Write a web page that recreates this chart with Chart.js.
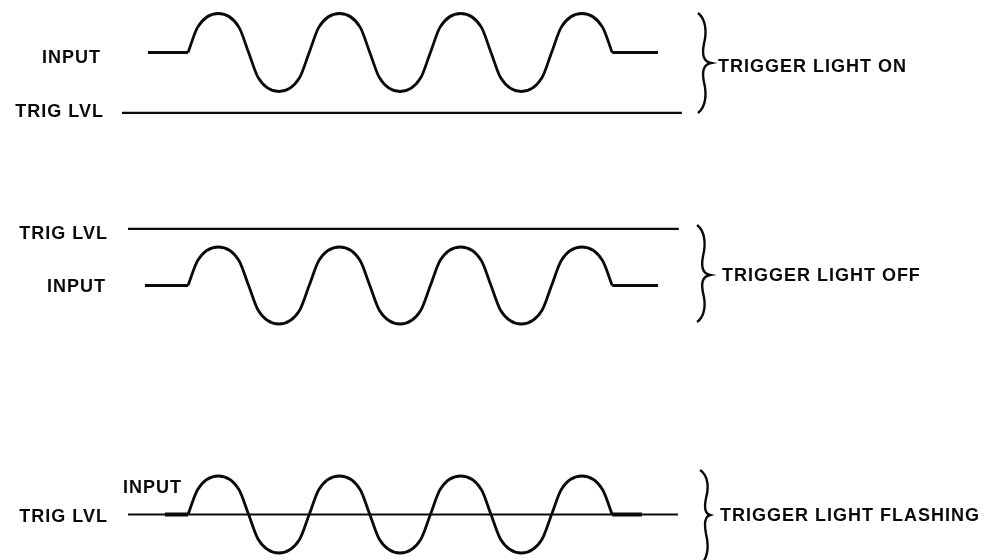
<!DOCTYPE html>
<html><head><meta charset="utf-8">
<script src="https://cdn.jsdelivr.net/npm/chart.js@4/dist/chart.umd.min.js"></script>
<style>html,body{margin:0;padding:0;background:#fff;overflow:hidden}canvas{display:block}</style>
</head><body>
<canvas id="c" width="991" height="560"></canvas>
<script>
// Input signal: time in quarter-periods, value in amplitude units
const waveT = [0,0.32,1,1.68,2,2.32,3,3.68,4,4.32,5,5.68,6,6.32,7,7.68,8,8.32,9,9.68,10,10.32,11,11.68,12,12.32,13,13.68,14];
const waveV = [0,0.65,1,0.65,0,-0.65,-1,-0.65,0,0.65,1,0.65,0,-0.65,-1,-0.65,0,0.65,1,0.65,0,-0.65,-1,-0.65,0,0.65,1,0.65,0];

// Three cases
const caseNames   = ['TRIGGER LIGHT ON', 'TRIGGER LIGHT OFF', 'TRIGGER LIGHT FLASHING'];
const trigLevels  = [-1.55, 1.47, 0];        // trigger level relative to input centre
const trigStartT  = [-2.18, -1.98, -1.98];
const trigEndT    = [16.30, 16.20, 16.17];
const inputStartT = [-1.32, -1.42, -0.76];   // quiet input before the burst
const inputEndT   = [15.51, 15.51, 14.98];   // quiet input after the burst
const inputLabel  = 'INPUT';
const trigLabel   = 'TRIG LVL';

// ---- layout (not data) ----
const axisIds = ['y1', 'y2', 'y3'];
const yRanges = [[-13.013, 1.346], [-7.130, 7.416], [-1.182, 13.364]];
const xRange = [-6.205, 26.502];
const labelPos = [
  { input: [-2.904, -0.269, 'right'], trig: [-2.805, -1.654, 'right'], name: [17.49, -0.50], brace: [16.83, 17.26, 1.013, -0.269, -1.551] },
  { input: [-2.739, -0.169, 'right'], trig: [-2.673,  1.208, 'right'], name: [17.62,  0.117], brace: [16.80, 17.23, 1.571, 0.273, -0.948] },
  { input: [-2.145,  0.558, 'left'],  trig: [-2.673, -0.195, 'right'], name: [17.56, -0.169], brace: [16.90, 17.23, 1.156, -0.013, -1.312] }
];
const INK = '#0a0a0a';

const datasets = [];
caseNames.forEach((name, i) => {
  const ax = axisIds[i];
  const thickQuiet = i === 2;
  datasets.push({
    label: name + ' trig', yAxisID: ax, borderColor: INK, borderWidth: thickQuiet ? 1.8 : 2.2,
    data: [{ x: trigStartT[i], y: trigLevels[i] }, { x: trigEndT[i], y: trigLevels[i] }]
  });
  datasets.push({
    label: name + ' input', yAxisID: ax, borderColor: INK, borderWidth: 2.8,
    cubicInterpolationMode: 'monotone',
    data: waveT.map((t, k) => ({ x: t, y: waveV[k] }))
  });
  datasets.push({
    label: name + ' lead', yAxisID: ax, borderColor: INK, borderWidth: thickQuiet ? 4 : 2.8,
    data: [{ x: inputStartT[i], y: 0 }, { x: waveT[0], y: waveV[0] }]
  });
  datasets.push({
    label: name + ' tail', yAxisID: ax, borderColor: INK, borderWidth: thickQuiet ? 4 : 2.8,
    data: [{ x: waveT[waveT.length - 1], y: waveV[waveV.length - 1] }, { x: inputEndT[i], y: 0 }]
  });
});

const scales = { x: { type: 'linear', min: xRange[0], max: xRange[1], display: false } };
axisIds.forEach((id, i) => {
  scales[id] = { type: 'linear', position: 'left', min: yRanges[i][0], max: yRanges[i][1], display: false };
});

function drawBrace(ctx, x0, xp, yT, yM, yB) {
  const a = yM - yT, b = yB - yM;
  ctx.beginPath();
  ctx.moveTo(x0, yT);
  ctx.bezierCurveTo(x0 + 8, yT + a * 0.12, x0 + 9, yT + a * 0.38, x0 + 6, yT + a * 0.62);
  ctx.bezierCurveTo(x0 + 4, yT + a * 0.82, x0 + 5, yM - 1.5, xp, yM);
  ctx.bezierCurveTo(x0 + 5, yM + 1.5, x0 + 4, yM + b * 0.18, x0 + 6, yM + b * 0.38);
  ctx.bezierCurveTo(x0 + 9, yM + b * 0.62, x0 + 8, yM + b * 0.88, x0, yB);
  ctx.lineWidth = 2.4;
  ctx.strokeStyle = INK;
  ctx.stroke();
}

const annotate = {
  id: 'annotate',
  afterDatasetsDraw(chart) {
    const ctx = chart.ctx, xs = chart.scales.x;
    ctx.save();
    ctx.fillStyle = INK;
    ctx.font = 'bold 18px "Liberation Sans", Arial, sans-serif';
    try { ctx.letterSpacing = '1px'; } catch (e) {}
    ctx.textBaseline = 'alphabetic';
    caseNames.forEach((name, i) => {
      const ys = chart.scales[axisIds[i]];
      const p = labelPos[i];
      const put = (txt, t, v, align) => {
        ctx.textAlign = align;
        ctx.fillText(txt, xs.getPixelForValue(t) + (align === 'right' ? 1 : 0), ys.getPixelForValue(v));
      };
      put(inputLabel, p.input[0], p.input[1], p.input[2]);
      put(trigLabel, p.trig[0], p.trig[1], p.trig[2]);
      put(name, p.name[0], p.name[1], 'left');
      const br = p.brace;
      drawBrace(ctx, xs.getPixelForValue(br[0]), xs.getPixelForValue(br[1]),
        ys.getPixelForValue(br[2]), ys.getPixelForValue(br[3]), ys.getPixelForValue(br[4]));
    });
    ctx.restore();
  }
};

new Chart(document.getElementById('c'), {
  type: 'scatter',
  data: { datasets },
  options: {
    responsive: false, animation: false, events: [],
    layout: { padding: 0 },
    showLine: true,
    elements: { point: { radius: 0 }, line: { borderCapStyle: 'butt', borderJoinStyle: 'round', fill: false } },
    datasets: { scatter: { showLine: true, pointRadius: 0 } },
    plugins: { legend: { display: false }, tooltip: { enabled: false }, title: { display: false } },
    scales
  },
  plugins: [annotate]
});
</script>
</body></html>
